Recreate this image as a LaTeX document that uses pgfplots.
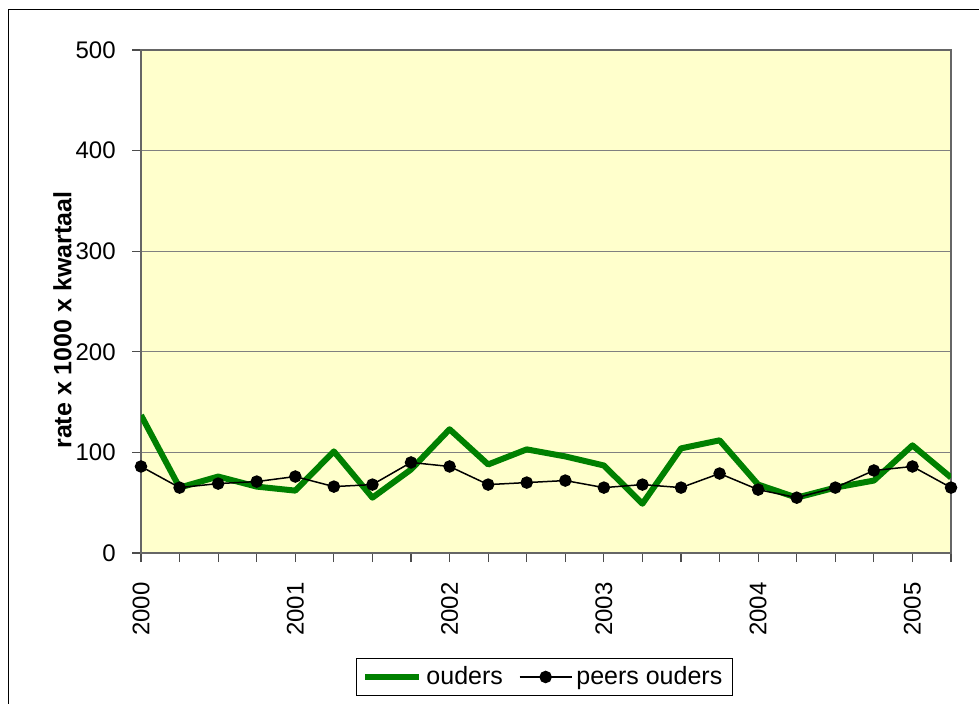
\documentclass[border=0pt]{standalone}
\usepackage{fontspec}
\setmainfont{Liberation Sans}
\usepackage{pgfplots}
\pgfplotsset{compat=1.18}
\definecolor{plotbg}{HTML}{FFFFCC}
\definecolor{ougreen}{HTML}{008000}
\pgfplotsset{
 greenleg/.style={legend image code/.code={\draw[##1] (0pt,0pt) -- (27pt,0pt);}},
 blackleg/.style={legend image code/.code={\draw[##1, mark repeat=2, mark phase=2] plot coordinates {(0pt,0pt) (13pt,0pt) (26pt,0pt)};}},
}
\begin{document}
\begin{tikzpicture}
\useasboundingbox (0,0) rectangle (489.5pt,-352pt);
\draw[line width=0.6pt] (4.25pt,-360pt) -- (4.25pt,-4.6pt) -- (495pt,-4.6pt);
\begin{axis}[
 at={(70.5pt,-276.5pt)}, anchor=south west,
 scale only axis, width=405pt, height=251.5pt,
 xmin=2000, xmax=2005.25, ymin=0, ymax=500,
 xtick={2000,2001,2002,2003,2004,2005},
 minor xtick={2000.25,2000.5,2000.75,2001.25,2001.5,2001.75,2002.25,2002.5,2002.75,2003.25,2003.5,2003.75,2004.25,2004.5,2004.75,2005.25},
 ytick={0,100,200,300,400,500},
 tick pos=left, tick align=outside,
 major tick length=4.5pt, minor tick length=4.5pt,
 every tick/.style={black!70, line width=0.6pt},
 ymajorgrids, major grid style={black!50, line width=0.5pt},
 axis background/.style={fill=plotbg},
 axis line style={black!60, line width=0.75pt},
 /pgf/number format/assume math mode=true,
 /pgf/number format/1000 sep={},
 ticklabel style={font=\fontsize{12}{14}\selectfont},
 xticklabel style={rotate=90, anchor=east, inner sep=0pt},
 yticklabel style={inner sep=0pt},
 xticklabel shift=10pt, yticklabel shift=8pt,
 ylabel={\textbf{rate x 1000 x kwartaal}},
 ylabel style={font=\fontsize{12.5}{15}\selectfont, at={(axis description cs:-0.085,0.463)}, anchor=south, inner sep=0pt},
 legend columns=2,
 legend style={at={(0.498,-0.2465)}, anchor=center, draw=black, line width=0.5pt, fill=white,
   font=\fontsize{12.5}{14}\selectfont, /tikz/every even column/.append style={column sep=6pt}},
]
\addplot[ougreen, line width=3pt, line join=round, greenleg] coordinates {
(2000,137) (2000.25,65) (2000.5,76) (2000.75,66) (2001,62) (2001.25,101)
(2001.5,55) (2001.75,83) (2002,123) (2002.25,88) (2002.5,103) (2002.75,96)
(2003,87) (2003.25,49) (2003.5,104) (2003.75,112) (2004,68) (2004.25,55)
(2004.5,65) (2004.75,72) (2005,107) (2005.25,75)
};
\addlegendentry{ouders}
\addplot[black, line width=0.75pt, mark=*, mark size=2.75pt, blackleg] coordinates {
(2000,86) (2000.25,65) (2000.5,69) (2000.75,71) (2001,76) (2001.25,66)
(2001.5,68) (2001.75,90) (2002,86) (2002.25,68) (2002.5,70) (2002.75,72)
(2003,65) (2003.25,68) (2003.5,65) (2003.75,79) (2004,63) (2004.25,55)
(2004.5,65) (2004.75,82) (2005,86) (2005.25,65)
};
\addlegendentry{peers ouders}
\end{axis}
\end{tikzpicture}
\end{document}
